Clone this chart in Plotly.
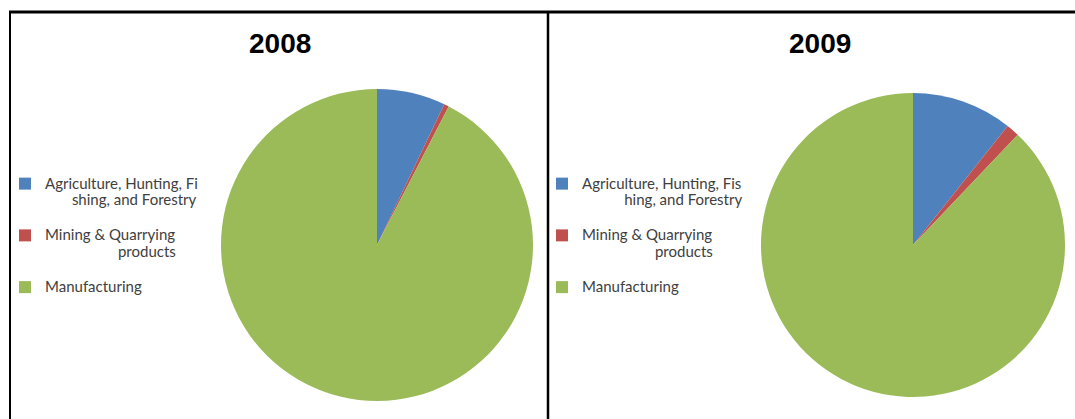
import plotly.graph_objects as go

NB = "\u00a0"
categories_2008 = [
    "Agriculture, Hunting, Fi<br>" + NB * 7 + "shing, and Forestry",
    "Mining & Quarrying<br>" + NB * 19 + "products",
    "Manufacturing",
]
categories_2009 = [
    "Agriculture, Hunting, Fis<br>" + NB * 11 + "hing, and Forestry\u200b",
    "Mining & Quarrying<br>" + NB * 19 + "products\u200b",
    "Manufacturing\u200b",
]
values_2008 = [7.1, 0.5, 92.4]
values_2009 = [10.7, 1.4, 87.9]
years = ["2008", "2009"]
colors = ["#4F81BD", "#C0504D", "#9BBB59"]

W, H = 1075, 419


def px_x(v):
    return v / W


def px_y(v):
    return 1 - v / H


def legend_label(s, last):
    txt = '<span style="font-size:15px">' + s.replace("<br>", '</span><br><span style="font-size:15px">') + "</span>"
    return txt if last else txt + "<br> "


fig = go.Figure()

r1 = 156
fig.add_trace(go.Pie(
    labels=[legend_label(c, i == len(categories_2008) - 1) for i, c in enumerate(categories_2008)],
    values=values_2008, sort=False, direction="clockwise",
    rotation=0, textinfo="none", hoverinfo="label+value",
    marker=dict(colors=colors, line=dict(width=0)),
    domain=dict(x=[px_x(377 - r1), px_x(377 + r1)], y=[px_y(245 + r1), px_y(245 - r1)]),
    legend="legend", showlegend=True,
))
r2 = 152
fig.add_trace(go.Pie(
    labels=[legend_label(c, i == len(categories_2009) - 1) for i, c in enumerate(categories_2009)],
    values=values_2009, sort=False, direction="clockwise",
    rotation=0, textinfo="none", hoverinfo="label+value",
    marker=dict(colors=colors, line=dict(width=0)),
    domain=dict(x=[px_x(913 - r2), px_x(913 + r2)], y=[px_y(245 + r2), px_y(245 - r2)]),
    legend="legend2", showlegend=True,
))

legend_font = dict(family="Lato, 'Liberation Sans', sans-serif", size=12.5, color="#404040")
fig.update_layout(
    width=W, height=H,
    margin=dict(l=0, r=0, t=0, b=0),
    paper_bgcolor="white",
    plot_bgcolor="white",
    legend=dict(x=px_x(5), y=px_y(169), xanchor="left", yanchor="top",
                font=legend_font, valign="top", bgcolor="rgba(0,0,0,0)",
                itemclick=False, itemdoubleclick=False),
    legend2=dict(x=px_x(542), y=px_y(169), xanchor="left", yanchor="top",
                 font=legend_font, valign="top", bgcolor="rgba(0,0,0,0)",
                 itemclick=False, itemdoubleclick=False),
    annotations=[
        dict(text="<b>" + years[0] + "</b>", x=px_x(280), y=px_y(43), xref="paper", yref="paper",
             showarrow=False, xanchor="center", yanchor="middle",
             font=dict(family="Liberation Sans, Arial, sans-serif", size=28, color="black")),
        dict(text="<b>" + years[1] + "</b>", x=px_x(820), y=px_y(44), xref="paper", yref="paper",
             showarrow=False, xanchor="center", yanchor="middle",
             font=dict(family="Liberation Sans, Arial, sans-serif", size=28, color="black")),
    ],
    shapes=[
        dict(type="line", xref="paper", yref="paper", x0=px_x(9), x1=1, y0=px_y(12), y1=px_y(12),
             line=dict(color="black", width=3)),
        dict(type="line", xref="paper", yref="paper", x0=px_x(10), x1=px_x(10), y0=px_y(12), y1=0,
             line=dict(color="black", width=2)),
        dict(type="line", xref="paper", yref="paper", x0=px_x(548), x1=px_x(548), y0=px_y(12), y1=0,
             line=dict(color="black", width=2.5)),
    ],
)

fig.write_html("out.html", config={"displayModeBar": False},
               post_script="document.body.style.margin='0';document.body.style.overflow='hidden';")
